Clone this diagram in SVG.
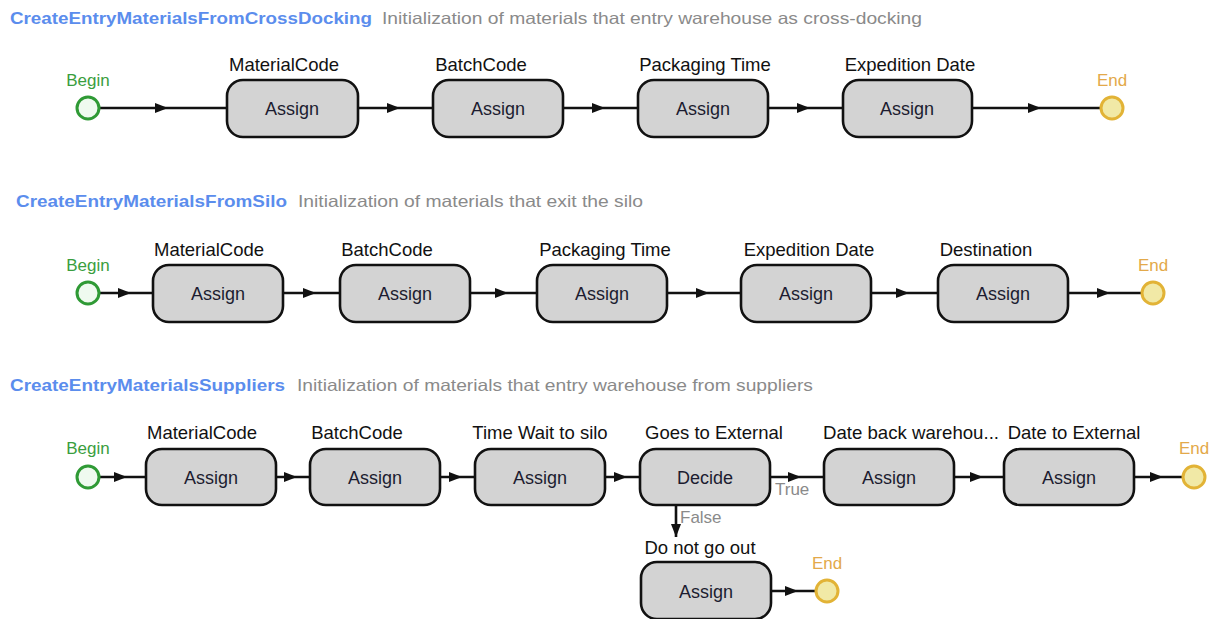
<svg xmlns="http://www.w3.org/2000/svg" width="1218" height="619" viewBox="0 0 1218 619">
  <defs>
    <marker id="arrow" markerUnits="userSpaceOnUse" markerWidth="14" markerHeight="11" refX="13" refY="5" orient="auto">
      <path d="M0,0 L13,5 L0,10 z" fill="#111"/>
    </marker>
    <style>
      text { font-family: "Liberation Sans", Arial, sans-serif; }
      .title { font-size: 17px; font-weight: bold; fill: #5b8ded; }
      .desc { font-size: 16.5px; fill: #8a8a8a; }
      .lbl { font-size: 18.5px; fill: #111; text-anchor: middle; }
      .lbls { font-size: 18.5px; fill: #111; }
      .inner { font-size: 18px; fill: #1c1c30; text-anchor: middle; }
      .box { fill: #d3d3d3; stroke: #111; stroke-width: 2.6; }
      .begin { fill: #effaef; stroke: #2f9a35; stroke-width: 3; }
      .begin-t { font-size: 17px; fill: #3a9e3e; text-anchor: middle; }
      .end { fill: #f1e9a6; stroke: #e2b336; stroke-width: 3; }
      .end-t { font-size: 17px; fill: #e3a94a; text-anchor: middle; }
      .edge { fill: none; stroke: #111; stroke-width: 2.6; marker-mid: url(#arrow); }
      .edge-end { fill: none; stroke: #111; stroke-width: 2.6; marker-end: url(#arrow); }
      .cond { font-size: 17px; fill: #8a8a8a; }
    </style>
  </defs>

  <!-- Process headers -->
  <g id="headers">
    <text class="title" x="10" y="24" textLength="362" lengthAdjust="spacingAndGlyphs">CreateEntryMaterialsFromCrossDocking</text>
    <text class="desc" x="382" y="24" textLength="540" lengthAdjust="spacingAndGlyphs">Initialization of materials that entry warehouse as cross-docking</text>
    <text class="title" x="16" y="207" textLength="271" lengthAdjust="spacingAndGlyphs">CreateEntryMaterialsFromSilo</text>
    <text class="desc" x="298" y="207" textLength="345" lengthAdjust="spacingAndGlyphs">Initialization of materials that exit the silo</text>
    <text class="title" x="10" y="391" textLength="275" lengthAdjust="spacingAndGlyphs">CreateEntryMaterialsSuppliers</text>
    <text class="desc" x="297" y="391" textLength="516" lengthAdjust="spacingAndGlyphs">Initialization of materials that entry warehouse from suppliers</text>
  </g>

  <!-- Connectors -->
  <g id="connectors">
    <!-- process 1 -->
    <path class="edge" d="M99,108 L168,108 L227,108"/>
    <path class="edge" d="M358,108 L400,108 L433,108"/>
    <path class="edge" d="M563,108 L605,108 L638,108"/>
    <path class="edge" d="M768,108 L810,108 L843,108"/>
    <path class="edge" d="M972,108 L1041,108 L1101,108"/>
    <!-- process 2 -->
    <path class="edge" d="M99,293 L131,293 L153,293"/>
    <path class="edge" d="M283,293 L316,293 L340,293"/>
    <path class="edge" d="M470,293 L508,293 L537,293"/>
    <path class="edge" d="M667,293 L709,293 L741,293"/>
    <path class="edge" d="M871,293 L909,293 L938,293"/>
    <path class="edge" d="M1068,293 L1110,293 L1142,293"/>
    <!-- process 3 -->
    <path class="edge" d="M99,477 L127,477 L146,477"/>
    <path class="edge" d="M276,477 L297,477 L310,477"/>
    <path class="edge" d="M440,477 L462,477 L475,477"/>
    <path class="edge" d="M605,477 L627,477 L640,477"/>
    <path class="edge" d="M770,477 L801,477 L824,477"/>
    <path class="edge" d="M954,477 L983,477 L1004,477"/>
    <path class="edge" d="M1134,477 L1163,477 L1183,477"/>
    <path class="edge-end" d="M676,505 L676,537"/>
    <path class="edge" d="M771,591 L798,591 L816,591"/>
    <text class="cond" x="775" y="495">True</text>
    <text class="cond" x="680" y="523">False</text>
  </g>

  <!-- Process 1 nodes -->
  <g id="p1-begin"><text class="begin-t" x="88" y="86">Begin</text><circle class="begin" cx="88" cy="108" r="11"/></g>
  <g id="p1-material"><text class="lbl" x="284" y="71">MaterialCode</text><rect class="box" x="227" y="80" width="131" height="57" rx="16"/><text class="inner" x="292" y="115">Assign</text></g>
  <g id="p1-batch"><text class="lbl" x="481" y="71">BatchCode</text><rect class="box" x="433" y="80" width="130" height="57" rx="16"/><text class="inner" x="498" y="115">Assign</text></g>
  <g id="p1-packaging"><text class="lbl" x="705" y="71">Packaging Time</text><rect class="box" x="638" y="80" width="130" height="57" rx="16"/><text class="inner" x="703" y="115">Assign</text></g>
  <g id="p1-expedition"><text class="lbl" x="910" y="71">Expedition Date</text><rect class="box" x="843" y="80" width="129" height="57" rx="16"/><text class="inner" x="907" y="115">Assign</text></g>
  <g id="p1-end"><text class="end-t" x="1112" y="86">End</text><circle class="end" cx="1112" cy="108" r="11"/></g>

  <!-- Process 2 nodes -->
  <g id="p2-begin"><text class="begin-t" x="88" y="271">Begin</text><circle class="begin" cx="88" cy="293" r="11"/></g>
  <g id="p2-material"><text class="lbl" x="209" y="256">MaterialCode</text><rect class="box" x="153" y="265" width="130" height="57" rx="16"/><text class="inner" x="218" y="300">Assign</text></g>
  <g id="p2-batch"><text class="lbl" x="387" y="256">BatchCode</text><rect class="box" x="340" y="265" width="130" height="57" rx="16"/><text class="inner" x="405" y="300">Assign</text></g>
  <g id="p2-packaging"><text class="lbl" x="605" y="256">Packaging Time</text><rect class="box" x="537" y="265" width="130" height="57" rx="16"/><text class="inner" x="602" y="300">Assign</text></g>
  <g id="p2-expedition"><text class="lbl" x="809" y="256">Expedition Date</text><rect class="box" x="741" y="265" width="130" height="57" rx="16"/><text class="inner" x="806" y="300">Assign</text></g>
  <g id="p2-destination"><text class="lbl" x="986" y="256">Destination</text><rect class="box" x="938" y="265" width="130" height="57" rx="16"/><text class="inner" x="1003" y="300">Assign</text></g>
  <g id="p2-end"><text class="end-t" x="1153" y="271">End</text><circle class="end" cx="1153" cy="293" r="11"/></g>

  <!-- Process 3 nodes -->
  <g id="p3-begin"><text class="begin-t" x="88" y="454">Begin</text><circle class="begin" cx="88" cy="477" r="11"/></g>
  <g id="p3-material"><text class="lbl" x="202" y="439">MaterialCode</text><rect class="box" x="146" y="449" width="130" height="56" rx="16"/><text class="inner" x="211" y="484">Assign</text></g>
  <g id="p3-batch"><text class="lbl" x="357" y="439">BatchCode</text><rect class="box" x="310" y="449" width="130" height="56" rx="16"/><text class="inner" x="375" y="484">Assign</text></g>
  <g id="p3-wait"><text class="lbl" x="540" y="439">Time Wait to silo</text><rect class="box" x="475" y="449" width="130" height="56" rx="16"/><text class="inner" x="540" y="484">Assign</text></g>
  <g id="p3-decide"><text class="lbl" x="714" y="439">Goes to External</text><rect class="box" x="640" y="449" width="130" height="56" rx="16"/><text class="inner" x="705" y="484">Decide</text></g>
  <g id="p3-back"><text class="lbls" x="823" y="439" textLength="176" lengthAdjust="spacingAndGlyphs">Date back warehou...</text><rect class="box" x="824" y="449" width="130" height="56" rx="16"/><text class="inner" x="889" y="484">Assign</text></g>
  <g id="p3-external"><text class="lbl" x="1074" y="439">Date to External</text><rect class="box" x="1004" y="449" width="130" height="56" rx="16"/><text class="inner" x="1069" y="484">Assign</text></g>
  <g id="p3-end"><text class="end-t" x="1194" y="454">End</text><circle class="end" cx="1194" cy="477" r="11"/></g>
  <g id="p3-noout"><text class="lbl" x="700" y="554">Do not go out</text><rect class="box" x="641" y="562" width="130" height="57" rx="16"/><text class="inner" x="706" y="598">Assign</text></g>
  <g id="p3-end2"><text class="end-t" x="827" y="569">End</text><circle class="end" cx="827" cy="591" r="11"/></g>
</svg>
